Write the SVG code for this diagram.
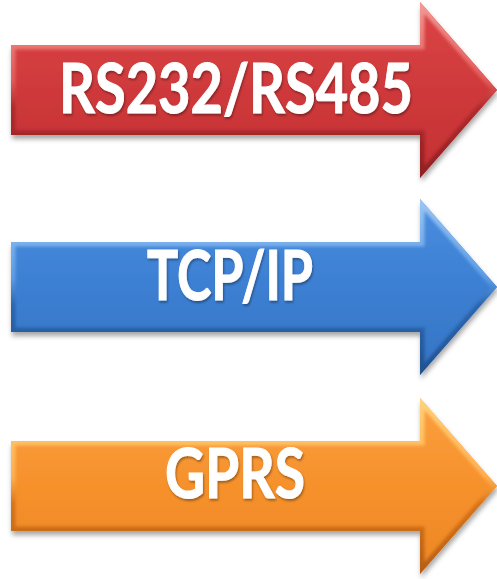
<svg xmlns="http://www.w3.org/2000/svg" xmlns:xlink="http://www.w3.org/1999/xlink" width="497" height="579" viewBox="0 0 497 579">
  <defs>
    <!-- shared block-arrow outline, local coordinates -->
    <path id="arrowShape" d="M11,43 H420 V0 L497,88 L420,176 V133 H11 Z"/>
    <clipPath id="arrowClip" clipPathUnits="userSpaceOnUse">
      <use xlink:href="#arrowShape"/>
    </clipPath>

    <linearGradient id="redFill" x1="0" y1="0" x2="0" y2="1">
      <stop offset="0" stop-color="#dc4546"/>
      <stop offset="0.5" stop-color="#cf393b"/>
      <stop offset="1" stop-color="#c33133"/>
    </linearGradient>
    <linearGradient id="blueFill" x1="0" y1="0" x2="0" y2="1">
      <stop offset="0" stop-color="#4b8ee0"/>
      <stop offset="0.5" stop-color="#3c7fd2"/>
      <stop offset="1" stop-color="#3574c4"/>
    </linearGradient>
    <linearGradient id="orangeFill" x1="0" y1="0" x2="0" y2="1">
      <stop offset="0" stop-color="#fba040"/>
      <stop offset="0.5" stop-color="#f6912c"/>
      <stop offset="1" stop-color="#ec8624"/>
    </linearGradient>

    <!-- bevel edges: light along the top, dark along the bottom -->
    <linearGradient id="redEdge" x1="0" y1="0" x2="0" y2="1">
      <stop offset="0" stop-color="#f39a95"/>
      <stop offset="0.45" stop-color="#e25a58"/>
      <stop offset="0.6" stop-color="#b02a2c"/>
      <stop offset="1" stop-color="#8e1f22"/>
    </linearGradient>
    <linearGradient id="blueEdge" x1="0" y1="0" x2="0" y2="1">
      <stop offset="0" stop-color="#9cc6f3"/>
      <stop offset="0.45" stop-color="#5d9de6"/>
      <stop offset="0.6" stop-color="#2c66b0"/>
      <stop offset="1" stop-color="#21508f"/>
    </linearGradient>
    <linearGradient id="orangeEdge" x1="0" y1="0" x2="0" y2="1">
      <stop offset="0" stop-color="#ffd27a"/>
      <stop offset="0.45" stop-color="#ffb050"/>
      <stop offset="0.6" stop-color="#d8741a"/>
      <stop offset="1" stop-color="#b45e12"/>
    </linearGradient>

    <filter id="shadow" x="-5%" y="-10%" width="115%" height="130%">
      <feDropShadow dx="1" dy="4" stdDeviation="2.5" flood-color="#000" flood-opacity="0.35"/>
    </filter>
    <filter id="soft" x="-5%" y="-10%" width="110%" height="120%">
      <feGaussianBlur stdDeviation="1.6"/>
    </filter>
    <filter id="textShadow" x="-5%" y="-20%" width="110%" height="140%">
      <feDropShadow dx="1" dy="2" stdDeviation="1.2" flood-color="#000" flood-opacity="0.35"/>
    </filter>

    <style>
      .label { font-family: "Lato", "Open Sans", "Liberation Sans", sans-serif; font-weight: bold; fill: #ffffff; stroke: #ffffff; stroke-width: 1; text-anchor: middle; font-size: 68px; }
      .edge { fill: none; stroke-width: 9; stroke-linejoin: miter; }
    </style>
  </defs>

  <!-- RS232/RS485 arrow -->
  <g id="arrow-rs">
    <g transform="translate(0,2)">
      <use xlink:href="#arrowShape" fill="url(#redFill)" filter="url(#shadow)"/>
      <g clip-path="url(#arrowClip)">
        <use xlink:href="#arrowShape" class="edge" stroke="url(#redEdge)" filter="url(#soft)"/>
      </g>
    </g>
    <text class="label" x="236" y="113" textLength="354" lengthAdjust="spacingAndGlyphs" filter="url(#textShadow)">RS232/RS485</text>
  </g>

  <!-- TCP/IP arrow -->
  <g id="arrow-tcp">
    <g transform="translate(0,199)">
      <use xlink:href="#arrowShape" fill="url(#blueFill)" filter="url(#shadow)"/>
      <g clip-path="url(#arrowClip)">
        <use xlink:href="#arrowShape" class="edge" stroke="url(#blueEdge)" filter="url(#soft)"/>
      </g>
    </g>
    <text class="label" x="230" y="300" textLength="166" lengthAdjust="spacingAndGlyphs" filter="url(#textShadow)">TCP/IP</text>
  </g>

  <!-- GPRS arrow -->
  <g id="arrow-gprs">
    <g transform="translate(0,398)">
      <use xlink:href="#arrowShape" fill="url(#orangeFill)" filter="url(#shadow)"/>
      <g clip-path="url(#arrowClip)">
        <use xlink:href="#arrowShape" class="edge" stroke="url(#orangeEdge)" filter="url(#soft)"/>
      </g>
    </g>
    <text class="label" x="235" y="498" textLength="140" lengthAdjust="spacingAndGlyphs" filter="url(#textShadow)">GPRS</text>
  </g>
</svg>
